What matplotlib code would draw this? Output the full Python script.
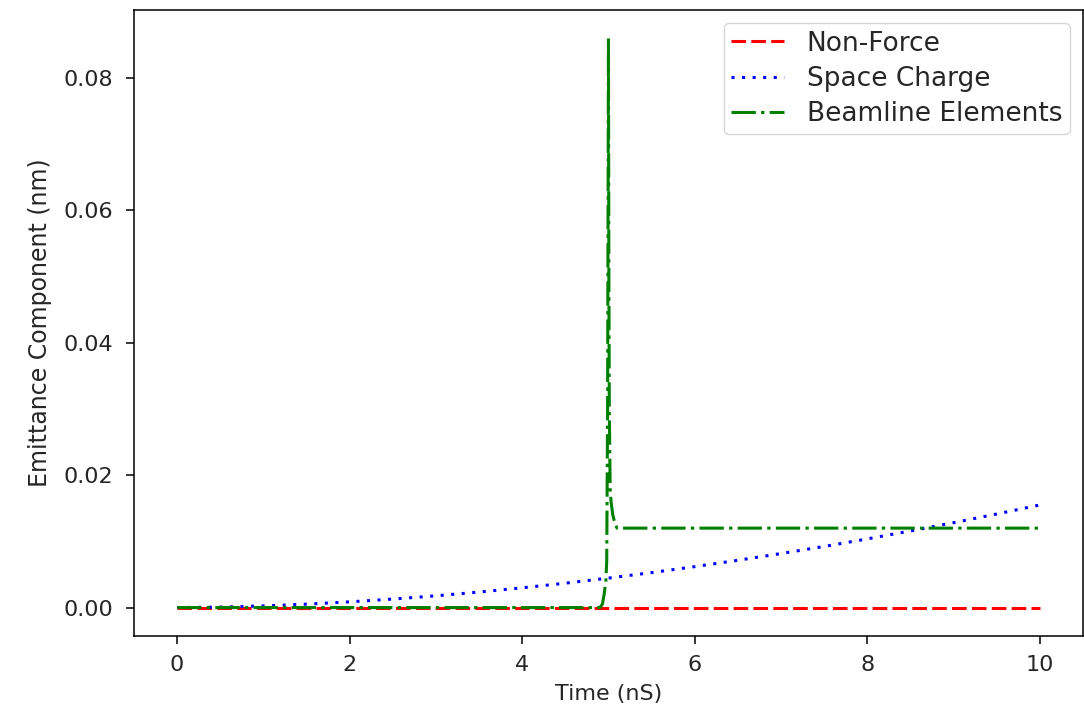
import matplotlib
matplotlib.use("Agg")
import matplotlib.pyplot as plt

plt.rcParams['lines.scale_dashes'] = False

# Non-Force
t_nf = [0.0, 10.0]
y_nf = [0.0, 0.0]

# Space Charge
t_sc = [0.0, 0.5, 1.0, 1.5, 2.0, 2.5, 3.0, 3.5, 4.0, 4.5, 5.0,
        5.5, 6.0, 6.5, 7.0, 7.5, 8.0, 8.5, 9.0, 9.5, 10.0]
y_sc = [0.0, 0.00007, 0.00025, 0.00051, 0.00086, 0.00128, 0.00177, 0.00234,
        0.00298, 0.00368, 0.00445, 0.00528, 0.00618, 0.00714, 0.00816,
        0.00923, 0.01037, 0.01157, 0.01282, 0.01413, 0.0155]

# Beamline Elements
t_be = [0.0, 4.90, 4.93, 4.95, 4.97, 4.98, 4.99, 5.00, 5.005, 5.01,
        5.02, 5.03, 5.05, 5.08, 5.10, 10.0]
y_be = [0.0, 0.0, 0.0005, 0.002, 0.004, 0.007, 0.03, 0.086, 0.05, 0.03,
        0.018, 0.016, 0.014, 0.0125, 0.0120, 0.0120]

text_color = '#262626'

fig = plt.figure(figsize=(10.84, 7.08), dpi=100)
ax = fig.add_axes([0.1236, 0.1017, 0.8754, 0.8842])

lw = 2.2
l1, = ax.plot(t_nf, y_nf, color='red', lw=lw, label='Non-Force')
l1.set_dashes([10.5, 3.8])
l2, = ax.plot(t_sc, y_sc, color='blue', lw=lw, label='Space Charge')
l2.set_dashes([2.2, 5.4])
l3, = ax.plot(t_be, y_be, color='green', lw=lw, label='Beamline Elements')
l3.set_dashes([17.5, 3.8, 2.4, 3.8])

ax.set_xticks([0, 2, 4, 6, 8, 10])
ax.set_yticks([0.0, 0.02, 0.04, 0.06, 0.08])
ax.set_yticklabels(['0.00', '0.02', '0.04', '0.06', '0.08'])
ax.tick_params(axis='both', labelsize=16, length=6, width=1.1,
               labelcolor=text_color)
ax.tick_params(axis='y', pad=9)
ax.tick_params(axis='x', pad=8)
for s in ax.spines.values():
    s.set_linewidth(1.1)
ax.set_xlabel('Time (nS)', fontsize=16, color=text_color, labelpad=6)
ax.set_ylabel('Emittance Component (nm)', fontsize=17, color=text_color,
              labelpad=8)
leg = ax.legend(loc='upper right', fontsize=19, handlelength=2.0,
                handletextpad=0.87, labelspacing=0.35, borderpad=0.28,
                borderaxespad=0.5)
for t in leg.get_texts():
    t.set_color(text_color)

fig.savefig('out.png', dpi=100)
